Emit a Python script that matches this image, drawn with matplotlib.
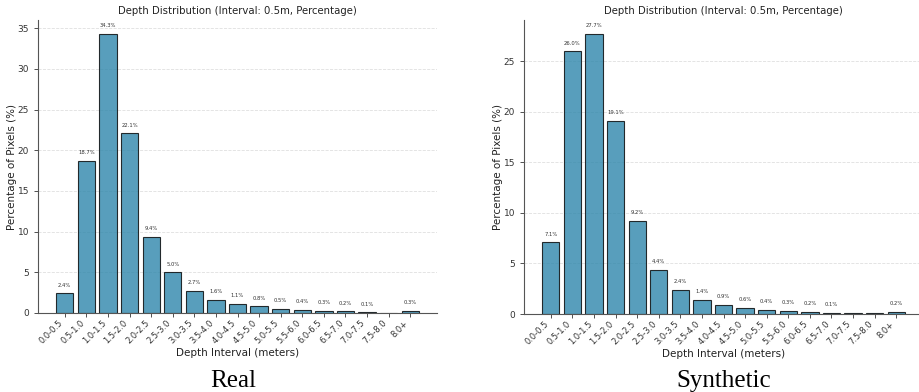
import matplotlib
matplotlib.use("Agg")
import matplotlib.pyplot as plt

categories = ["0.0-0.5", "0.5-1.0", "1.0-1.5", "1.5-2.0", "2.0-2.5", "2.5-3.0",
              "3.0-3.5", "3.5-4.0", "4.0-4.5", "4.5-5.0", "5.0-5.5", "5.5-6.0",
              "6.0-6.5", "6.5-7.0", "7.0-7.5", "7.5-8.0", "8.0+"]
real_values = [2.4, 18.7, 34.3, 22.1, 9.4, 5.0, 2.7, 1.6, 1.1, 0.8, 0.5, 0.4,
               0.3, 0.2, 0.1, 0.06, 0.3]
synthetic_values = [7.1, 26.0, 27.7, 19.1, 9.2, 4.4, 2.4, 1.4, 0.9, 0.6, 0.4, 0.3,
                    0.2, 0.1, 0.08, 0.06, 0.2]
captions = ["Real", "Synthetic"]
title = "Depth Distribution (Interval: 0.5m, Percentage)"

W, H = 919, 392
fig = plt.figure(figsize=(W / 100, H / 100), dpi=100)


def px_axes(x0, y0, x1, y1):
    return fig.add_axes([x0 / W, (H - y1) / H, (x1 - x0) / W, (y1 - y0) / H])


def draw(ax, values):
    x = list(range(len(categories)))
    ax.bar(x, values, width=0.8, color="#2E86AB", alpha=0.8,
           edgecolor="black", linewidth=0.8)
    vmax = max(values)
    for xi, v in zip(x, values):
        if v >= 0.1:
            ax.text(xi, v + vmax * 0.02, f"{v:.1f}%", ha="center", va="bottom",
                    fontsize=3.8, color="#333333")
    ax.set_ylim(0, vmax * 1.05)
    ax.set_xticks(x)
    ax.set_xticklabels(categories, rotation=45, ha="right", fontsize=6,
                       rotation_mode="default")
    ax.tick_params(axis="y", labelsize=6.5, length=3, width=0.6, colors="#333333")
    ax.tick_params(axis="x", length=3, width=0.6, colors="#333333", pad=1)
    ax.set_xlabel("Depth Interval (meters)", fontsize=7.5, labelpad=1.5, color="#222222")
    ax.set_ylabel("Percentage of Pixels (%)", fontsize=7.5, labelpad=0, color="#222222")
    ax.set_title(title, fontsize=7.3, pad=4, color="#222222")
    ax.grid(axis="y", linestyle="--", alpha=0.4, linewidth=0.6)
    ax.set_axisbelow(True)
    for s in ["top", "right"]:
        ax.spines[s].set_visible(False)
    for s in ["left", "bottom"]:
        ax.spines[s].set_color("#555555")
        ax.spines[s].set_linewidth(0.8)


ax1 = px_axes(38, 20, 437, 313)
draw(ax1, real_values)
ax2 = px_axes(524, 20, 923, 314)
draw(ax2, synthetic_values)

fig.text(233 / W, 1 - 381 / H, captions[0], ha="center", va="center",
         fontsize=18, family="Liberation Serif")
fig.text(724 / W, 1 - 381 / H, captions[1], ha="center", va="center",
         fontsize=18, family="Liberation Serif")

fig.savefig("out.png", dpi=100)
